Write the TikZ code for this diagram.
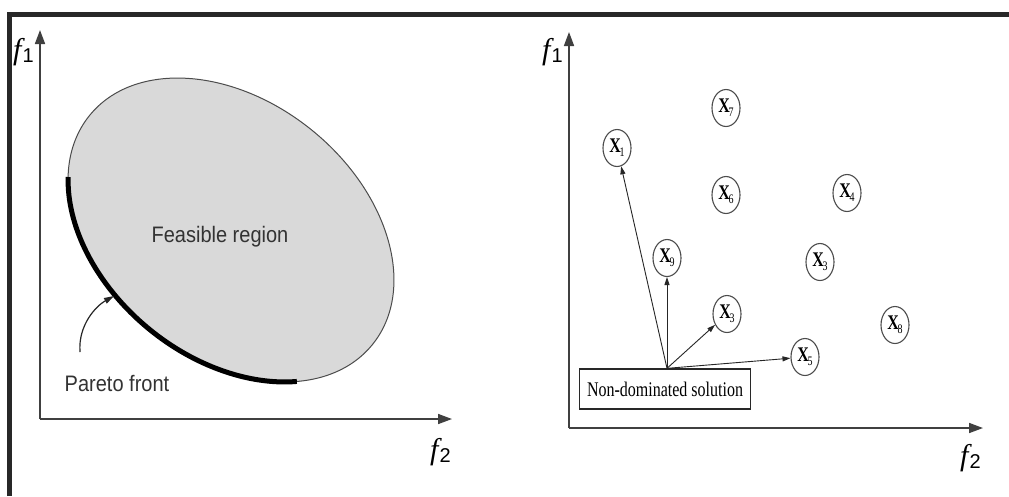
\documentclass[tikz,border=0pt]{standalone}
\usepackage{fontspec}
\usepackage{graphicx}
\setmainfont{Liberation Serif}
\setsansfont{Liberation Sans}
\usetikzlibrary{arrows.meta,shapes.geometric}
\definecolor{feas}{RGB}{217,217,217}
\definecolor{ink}{RGB}{40,40,40}
% objective label: italic f with an upright sans index
\newcommand\objlab[1]{{\fontsize{30}{30}\selectfont\itshape f}\kern1pt\raisebox{-3pt}{\sffamily\fontsize{20}{20}\selectfont #1}}
% solution label: bold X with a numeric index
\newcommand\sollab[1]{\scalebox{1}[1.3]{\textbf{X}\kern-1.5pt\raisebox{-3pt}{\fontsize{10}{10}\selectfont #1}}}
\begin{document}
\begin{tikzpicture}[x=1pt,y=-1pt,
  frame/.style={draw=ink, line width=5pt},
  axis/.style={draw=black!75, line width=1.6pt, -{Triangle[length=14pt,width=10pt]}},
  objective/.style={inner sep=0pt, anchor=base west},
  sol/.style={ellipse, draw=black!70, line width=1.1pt, minimum width=28pt, minimum height=37pt, inner sep=0pt, font=\fontsize{16}{16}\selectfont},
  link/.style={draw=black!85, line width=0.9pt, -{Triangle[length=8pt,width=5pt]}},
  sanslab/.style={inner sep=0pt, font=\sffamily\fontsize{20}{20}\selectfont, text=black!80},
]
\useasboundingbox (0,0) rectangle (1009,496);
\fill[white] (0,0) rectangle (1009,496);

% outer frame (top and left edges)
\draw[frame] (9.5,496) |- (1009,14);

% ---------- left plot: feasible region and Pareto front ----------
\coordinate (lo) at (40,419);
\coordinate (ly) at (40,30);
\coordinate (lx) at (452,419);
\draw[axis] (lo) -- (ly);
\draw[axis] (lo) -- (lx);
\node[objective] (lf1) at (13,59) {\objlab{1}};
\node[objective] (lf2) at (430,459) {\objlab{2}};

\begin{scope}[shift={(231,230)}, rotate=-39]
  \draw[fill=feas, draw=black!70, line width=1pt] (0,0) ellipse [x radius=182pt, y radius=128.5pt];
  \draw[line width=5pt, black] (208.5:182pt and 128.5pt)
    arc [start angle=208.5, end angle=323.6, x radius=182pt, y radius=128.5pt];
\end{scope}

\node[sanslab] (feasible) at (220,237) {\scalebox{1}[1.12]{Feasible region}};
\node[sanslab] (pareto) at (117,383) {\scalebox{1}[1.12]{Pareto front}};
\coordinate (pa) at (80,352);
\coordinate (pb) at (114,296);
\draw[line width=1.2pt, black!85, -{Triangle[length=10pt,width=6pt]}]
  (pa) .. controls (78,325) and (96,306) .. (pb);

% ---------- right plot: solutions in objective space ----------
\coordinate (ro) at (569,428);
\coordinate (ry) at (569,32);
\coordinate (rx) at (983,428);
\draw[axis] (ro) -- (ry);
\draw[axis] (ro) -- (rx);
\node[objective] (rf1) at (542,59) {\objlab{1}};
\node[objective] (rf2) at (960,465) {\objlab{2}};

\node[sol] (x7) at (726,108) {\sollab{7}};
\node[sol] (x1) at (617,148) {\sollab{1}};
\node[sol] (x6) at (726,195) {\sollab{6}};
\node[sol] (x4) at (847,193) {\sollab{4}};
\node[sol] (x9) at (667,258) {\sollab{9}};
\node[sol] (x3a) at (820,262) {\sollab{3}};
\node[sol] (x3b) at (727,314) {\sollab{3}};
\node[sol] (x8) at (895,325) {\sollab{8}};
\node[sol] (x5) at (805,357) {\sollab{5}};

\node[draw=ink, line width=1.3pt, minimum width=171pt, minimum height=40pt, inner sep=0pt,
      font=\fontsize{16}{16}\selectfont] (nd) at (665,389)
      {\scalebox{1}[1.3]{Non-dominated solution}};
\coordinate (src) at ([xshift=2pt]nd.north);
\draw[link] (src) -- (x1);
\draw[link] (src) -- (x9);
\draw[link] (src) -- (x3b);
\draw[link] (src) -- (x5);
\end{tikzpicture}
\end{document}
